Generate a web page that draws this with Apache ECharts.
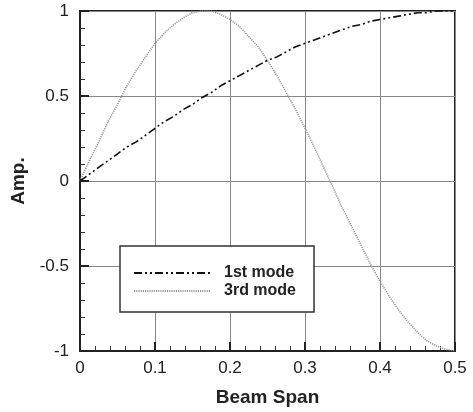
<!DOCTYPE html>
<html>
<head>
<meta charset="utf-8">
<script src="https://cdn.jsdelivr.net/npm/echarts@6/dist/echarts.min.js"></script>
<style>
html,body{margin:0;padding:0;background:#fff;}
#chart{width:473px;height:412px;}
</style>
</head>
<body>
<div id="chart"></div>
<script>
// Beam span positions (x)
const span = [0,0.0125,0.025,0.0375,0.05,0.0625,0.075,0.0875,0.1,0.1125,0.125,0.1375,0.15,0.1625,0.175,0.1875,0.2,0.2125,0.225,0.2375,0.25,0.2625,0.275,0.2875,0.3,0.3125,0.325,0.3375,0.35,0.3625,0.375,0.3875,0.4,0.4125,0.425,0.4375,0.45,0.4625,0.475,0.4875,0.5];
// Amplitudes
const mode1 = [0,0.04,0.08,0.12,0.16,0.20,0.23,0.27,0.31,0.35,0.38,0.42,0.45,0.49,0.52,0.56,0.59,0.62,0.65,0.68,0.71,0.73,0.76,0.79,0.81,0.83,0.85,0.87,0.89,0.91,0.92,0.94,0.95,0.96,0.97,0.98,0.99,0.99,1.0,1.0,1.0];
const mode3 = [0,0.12,0.23,0.35,0.45,0.56,0.65,0.73,0.81,0.87,0.92,0.96,0.99,1.0,1.0,0.98,0.95,0.91,0.85,0.79,0.71,0.62,0.52,0.42,0.31,0.20,0.08,-0.04,-0.16,-0.27,-0.38,-0.49,-0.59,-0.68,-0.76,-0.83,-0.89,-0.94,-0.97,-0.99,-1.0];
const seriesNames = ['1st mode','3rd mode'];
const xTicks = [0,0.1,0.2,0.3,0.4,0.5];
const yTicks = [-1,-0.5,0,0.5,1];

const chart = echarts.init(document.getElementById('chart'), null, {renderer:'canvas'});
const font = 'Liberation Sans, Arial, sans-serif';
chart.setOption({
  animation:false,
  backgroundColor:'#fff',
  grid:{left:80,right:18,top:11,bottom:59,show:true,borderColor:'#222',borderWidth:2,backgroundColor:'transparent'},
  xAxis:{
    type:'value',min:xTicks[0],max:xTicks[xTicks.length-1],interval:0.1,
    name:'Beam Span',nameLocation:'middle',nameGap:37,
    nameTextStyle:{fontFamily:font,fontWeight:'bold',fontSize:19,color:'#222'},
    axisLine:{show:true,onZero:false,lineStyle:{color:'#222',width:2}},
    axisTick:{show:true,inside:true,length:9,lineStyle:{color:'#222',width:2}},
    minorTick:{show:true,splitNumber:5,length:5,lineStyle:{color:'#333',width:1}},
    splitLine:{show:true,lineStyle:{color:'#888',width:1}},
    axisLabel:{fontFamily:font,fontSize:17,color:'#222',margin:9,formatter:v=>String(+v.toFixed(2))}
  },
  yAxis:{
    type:'value',min:yTicks[0],max:yTicks[yTicks.length-1],interval:0.5,
    name:'Amp.',nameLocation:'middle',nameGap:52,nameRotate:90,
    nameTextStyle:{fontFamily:font,fontWeight:'bold',fontSize:19,color:'#222'},
    axisLine:{show:true,onZero:false,lineStyle:{color:'#222',width:2}},
    axisTick:{show:true,inside:true,length:9,lineStyle:{color:'#222',width:2}},
    minorTick:{show:true,splitNumber:5,length:5,lineStyle:{color:'#333',width:1}},
    splitLine:{show:true,lineStyle:{color:'#888',width:1}},
    axisLabel:{fontFamily:font,fontSize:17,color:'#222',margin:11,formatter:v=>String(+v.toFixed(2))}
  },
  legend:{
    orient:'vertical',left:120,top:246,
    padding:[19,18,13,13],itemGap:2,itemWidth:76,itemHeight:14,
    backgroundColor:'#fff',borderColor:'#333',borderWidth:1.5,
    itemStyle:{color:'rgba(0,0,0,0)',borderWidth:0,opacity:0},
    textStyle:{fontFamily:font,fontWeight:'bold',fontSize:16,color:'#222',padding:[0,0,0,9]},
    data:seriesNames
  },
  series:[
    {name:seriesNames[0],type:'line',symbol:'none',data:span.map((x,i)=>[x,mode1[i]]),
     lineStyle:{color:'#111',width:1.6,type:[8,3,2,3,2,3]},itemStyle:{color:'#111'},z:3},
    {name:seriesNames[1],type:'line',symbol:'none',data:span.map((x,i)=>[x,mode3[i]]),
     lineStyle:{color:'#999',width:1.6,type:[1.2,1]},itemStyle:{color:'#999'},z:2}
  ]
});
</script>
</body>
</html>
